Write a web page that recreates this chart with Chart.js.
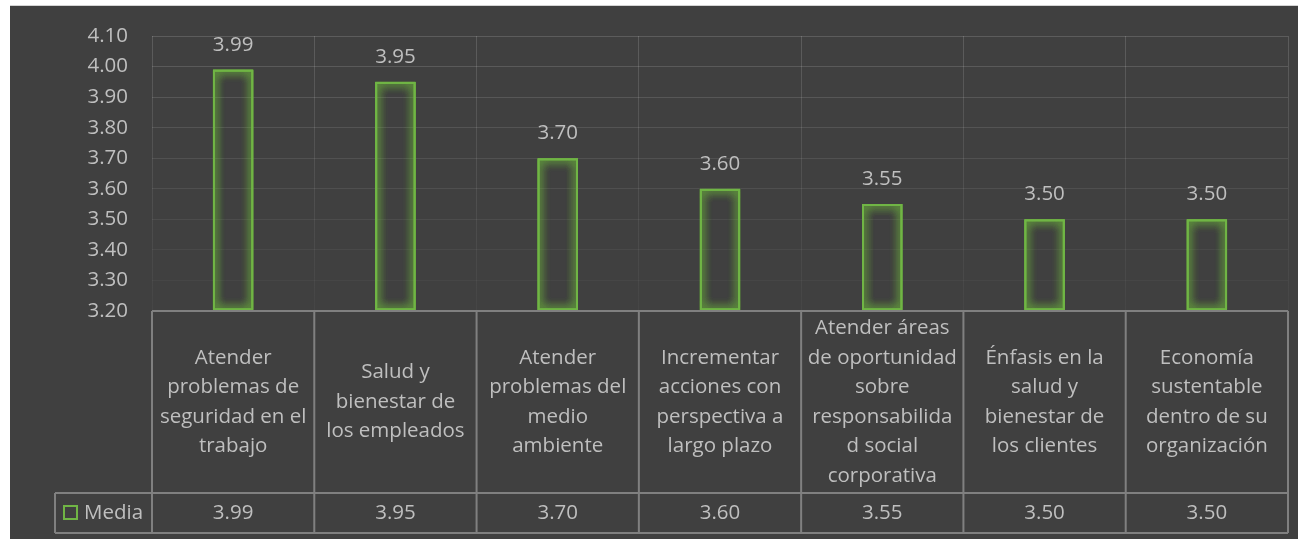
<!DOCTYPE html>
<html>
<head>
<meta charset="utf-8">
<script src="https://cdn.jsdelivr.net/npm/chart.js@4.4.1/dist/chart.umd.min.js"></script>
<style>
  html, body { margin: 0; padding: 0; background: #ffffff; overflow: hidden; }
  #wrap {
    position: absolute; left: 10px; top: 6px; width: 1288px; height: 533px;
    background: #404040; box-shadow: 0 -1px 0 #d4d4d4;
  }
</style>
</head>
<body>
<div id="wrap"><canvas id="chart"></canvas></div>
<script>
// Categories (already broken into the lines shown in the table header)
const categories = [
  ['Atender', 'problemas de', 'seguridad en el', 'trabajo'],
  ['Salud y', 'bienestar de', 'los empleados'],
  ['Atender', 'problemas del', 'medio', 'ambiente'],
  ['Incrementar', 'acciones con', 'perspectiva a', 'largo plazo'],
  ['Atender áreas', 'de oportunidad', 'sobre', 'responsabilida', 'd social', 'corporativa'],
  ['Énfasis en la', 'salud y', 'bienestar de', 'los clientes'],
  ['Economía', 'sustentable', 'dentro de su', 'organización']
];
const seriesName = 'Media';
const media = [3.99, 3.95, 3.70, 3.60, 3.55, 3.50, 3.50];
const yMin = 3.2;
const yMax = 4.1;
const yStep = 0.1;

const FONT = '"Open Sans", "DejaVu Sans", sans-serif';
const FSIZE = 20.5;
const TEXT = '#bfbfbf';
const GREEN = '#70b545';
const TABLE_LINE = '#808080';

// Soft green glow around the hollow bars
const glowPlugin = {
  id: 'glow',
  beforeDatasetsDraw(chart) {
    const c = chart.ctx;
    c.save();
    c.shadowColor = 'rgba(112, 190, 60, 1)';
    c.shadowBlur = 10;
  },
  afterDatasetsDraw(chart) {
    // extra passes strengthen the halo
    const ctrl = chart.getDatasetMeta(0).controller;
    ctrl.draw();
    ctrl.draw();
    chart.ctx.restore();
  }
};

// Value labels above each bar
const valueLabels = {
  id: 'valueLabels',
  afterDatasetsDraw(chart) {
    const c = chart.ctx;
    const meta = chart.getDatasetMeta(0);
    c.save();
    c.fillStyle = TEXT;
    c.font = FSIZE + 'px ' + FONT;
    c.textAlign = 'center';
    c.textBaseline = 'alphabetic';
    meta.data.forEach((bar, i) => {
      c.fillText(media[i].toFixed(2), bar.x, bar.y - 19);
    });
    c.restore();
  }
};

// Data table under the plot: category header row and value row with legend key
const dataTable = {
  id: 'dataTable',
  afterDraw(chart) {
    const c = chart.ctx;
    const area = chart.chartArea;
    const xs = chart.scales.x;
    const n = categories.length;
    const step = xs.getPixelForValue(1) - xs.getPixelForValue(0);
    const top = area.bottom;
    const headBottom = top + 182;
    const rowBottom = headBottom + 40;
    const legendLeft = 45;

    c.save();
    c.strokeStyle = TABLE_LINE;
    c.lineWidth = 2;
    c.beginPath();
    c.moveTo(area.left, top); c.lineTo(area.right, top);
    c.moveTo(legendLeft, headBottom); c.lineTo(area.right, headBottom);
    c.moveTo(legendLeft, rowBottom); c.lineTo(area.right, rowBottom);
    for (let i = 0; i <= n; i++) {
      const x = i < n ? xs.getPixelForValue(i) - step / 2 : xs.getPixelForValue(n - 1) + step / 2;
      c.moveTo(x, top); c.lineTo(x, rowBottom);
    }
    c.moveTo(legendLeft, headBottom); c.lineTo(legendLeft, rowBottom);
    c.stroke();

    c.fillStyle = TEXT;
    c.textAlign = 'center';
    c.textBaseline = 'middle';
    c.font = FSIZE + 'px ' + FONT;
    const lh = 29.5;
    const midHead = (top + headBottom) / 2;
    categories.forEach((lines, i) => {
      const x = xs.getPixelForValue(i);
      const y0 = midHead - (lines.length - 1) * lh / 2;
      lines.forEach((ln, k) => c.fillText(ln, x, y0 + k * lh));
    });

    const midRow = (headBottom + rowBottom) / 2;
    media.forEach((v, i) => {
      c.fillText(v.toFixed(2), xs.getPixelForValue(i), midRow);
    });

    // legend key
    c.strokeStyle = GREEN;
    c.lineWidth = 2;
    c.strokeRect(54, midRow - 7, 13, 13);
    c.textAlign = 'left';
    c.fillText(seriesName, 74, midRow);
    c.restore();
  }
};

const ctx = document.getElementById('chart');
new Chart(ctx, {
  type: 'bar',
  data: {
    labels: categories,
    datasets: [{
      label: seriesName,
      data: media,
      base: yMin,
      backgroundColor: 'rgba(0,0,0,0)',
      borderColor: GREEN,
      borderWidth: 2,
      borderSkipped: false,
      categoryPercentage: 1,
      barPercentage: 0.25
    }]
  },
  options: {
    responsive: true,
    maintainAspectRatio: false,
    animation: false,
    layout: { padding: { left: 0, top: 30, right: 10, bottom: 228 } },
    plugins: { legend: { display: false }, tooltip: { enabled: false } },
    scales: {
      x: {
        grid: {
          offset: true,
          drawTicks: false,
          lineWidth: 1,
          color(context) {
            const chart = context.chart;
            const a = chart.chartArea;
            if (!a) return 'rgba(255,255,255,0.1)';
            const g = chart.ctx.createLinearGradient(0, a.top, 0, a.bottom);
            g.addColorStop(0, 'rgba(255,255,255,0.15)');
            g.addColorStop(1, 'rgba(255,255,255,0.03)');
            return g;
          }
        },
        ticks: { display: false },
        border: { display: false },
        afterFit(s) { s.height = 0; }
      },
      y: {
        min: yMin,
        max: yMax,
        ticks: {
          stepSize: yStep,
          color: TEXT,
          font: { family: FONT, size: FSIZE },
          padding: 24,
          callback: v => Number(v).toFixed(2)
        },
        grid: {
          drawTicks: false,
          lineWidth: 1,
          color(context) {
            const v = context.tick ? context.tick.value : yMax;
            const t = (v - yMin) / (yMax - yMin);
            const a = 0.02 + 0.13 * t;
            return 'rgba(255,255,255,' + a.toFixed(3) + ')';
          }
        },
        border: { display: false },
        afterFit(s) {
          s.width = 142;
          // label padding is horizontal only; keep the plot top/bottom from the layout padding
          s.paddingTop = 4;
          s.paddingBottom = 4;
        }
      }
    }
  },
  plugins: [glowPlugin, valueLabels, dataTable]
});
</script>
</body>
</html>
